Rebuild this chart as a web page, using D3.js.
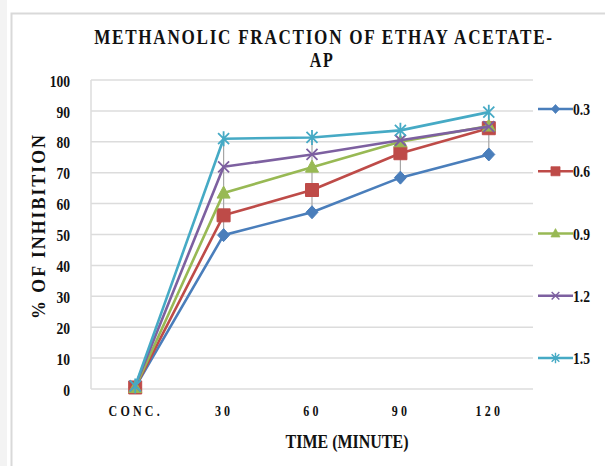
<!DOCTYPE html>
<html>
<head>
<meta charset="utf-8">
<script src="https://cdn.jsdelivr.net/npm/d3@7/dist/d3.min.js"></script>
<style>
  html, body { margin: 0; padding: 0; background: #fff; }
  svg { display: block; }
  svg text { font-family: "Liberation Serif", "Times New Roman", serif !important; font-weight: bold; fill: #111; }
</style>
</head>
<body>
<script>
// Time points and dose series (% inhibition)
const categories = ["CONC.", "30", "60", "90", "120"];
const seriesNames = ["0.3", "0.6", "0.9", "1.2", "1.5"];
const s03 = [0.5, 49.8, 57.2, 68.4, 75.9];
const s06 = [0.5, 56.2, 64.4, 76.3, 84.4];
const s09 = [0.5, 63.4, 71.8, 80.0, 85.1];
const s12 = [1, 71.9, 75.9, 80.5, 84.9];
const s15 = [1, 81.0, 81.4, 83.7, 89.6];
const yTicks = [0, 10, 20, 30, 40, 50, 60, 70, 80, 90, 100];

const seriesValues = [s03, s06, s09, s12, s15];
const colors = ["#4a7ebb", "#be4b48", "#98b954", "#7d60a0", "#46aac5"];
const shapes = ["diamond", "square", "triangle", "x", "star"];

const W = 605, H = 466;
const svg = d3.select("body").append("svg").attr("width", W).attr("height", H);

// outer frame
svg.append("rect").attr("x", 0).attr("y", 0).attr("width", 7).attr("height", H).attr("fill", "#f3f3f3");
svg.append("path").attr("d", `M11.5,${H} V13.5 H${W}`).attr("fill", "none")
  .attr("stroke", "#d9d9d9").attr("stroke-width", 2);

const plot = { left: 91, right: 533, top: 80, bottom: 389 };

const x = d3.scalePoint().domain(categories).range([plot.left, plot.right]).padding(0.5);
const y = d3.scaleLinear().domain([0, 100]).range([plot.bottom, plot.top]);

// horizontal gridlines
svg.append("g").selectAll("line").data(yTicks).join("line")
  .attr("x1", plot.left).attr("x2", plot.right)
  .attr("y1", d => y(d)).attr("y2", d => y(d))
  .attr("stroke", "#dcdcdc").attr("stroke-width", 1.5);

// left axis line
svg.append("line").attr("x1", plot.left).attr("x2", plot.left)
  .attr("y1", plot.top).attr("y2", plot.bottom)
  .attr("stroke", "#dcdcdc").attr("stroke-width", 1.5);

// y axis labels
const yAxis = d3.axisLeft(y).tickValues(yTicks).tickSize(0).tickPadding(21);
const gy = svg.append("g").attr("transform", `translate(${plot.left},0)`).call(yAxis);
gy.select(".domain").remove();
gy.selectAll("text").attr("class", "cond").attr("font-size", 17)
  .attr("fill", "#111").attr("dy", "0.36em");

// x axis labels
const xAxis = d3.axisBottom(x).tickSize(0).tickPadding(17);
const gx = svg.append("g").attr("transform", `translate(0,${plot.bottom})`).call(xAxis);
gx.select(".domain").remove();
gx.selectAll("text").attr("class", "cond").attr("font-size", 15)
  .attr("fill", "#111").attr("dy", "0.7em").style("letter-spacing", "4px");

// high-low lines
svg.append("g").selectAll("line").data(categories).join("line")
  .attr("x1", d => x(d)).attr("x2", d => x(d))
  .attr("y1", (d, i) => y(d3.min(seriesValues, s => s[i])))
  .attr("y2", (d, i) => y(d3.max(seriesValues, s => s[i])))
  .attr("stroke", "#a6a6a6").attr("stroke-width", 1.2);

function markerPath(shape, cx, cy) {
  switch (shape) {
    case "diamond": return `M${cx},${cy-6.5}L${cx+6},${cy}L${cx},${cy+6.5}L${cx-6},${cy}Z`;
    case "square": return `M${cx-6.5},${cy-6.5}h13v13h-13Z`;
    case "triangle": return `M${cx},${cy-7}L${cx+6.5},${cy+5}L${cx-6.5},${cy+5}Z`;
    case "x": return `M${cx-5.5},${cy-5.5}L${cx+5.5},${cy+5.5}M${cx-5.5},${cy+5.5}L${cx+5.5},${cy-5.5}`;
    case "star": return `M${cx-5.5},${cy-5.5}L${cx+5.5},${cy+5.5}M${cx-5.5},${cy+5.5}L${cx+5.5},${cy-5.5}M${cx},${cy-7.5}V${cy+7.5}`;
  }
}

const line = d3.line().x((d, i) => x(categories[i])).y(d => y(d));

seriesValues.forEach((vals, k) => {
  const g = svg.append("g");
  g.append("path").datum(vals).attr("d", line).attr("fill", "none")
    .attr("stroke", colors[k]).attr("stroke-width", 2.6).attr("stroke-linejoin", "round");
  g.selectAll("path.m").data(vals).join("path").attr("class", "m")
    .attr("d", (d, i) => markerPath(shapes[k], x(categories[i]), y(d)))
    .attr("fill", (shapes[k] === "x" || shapes[k] === "star") ? "none" : colors[k])
    .attr("stroke", colors[k]).attr("stroke-width", (shapes[k] === "x" || shapes[k] === "star") ? 1.8 : 1);
});

// legend
const legendY = d3.scalePoint().domain(seriesNames).range([109, 358]);
seriesNames.forEach((name, k) => {
  const ly = legendY(name);
  const g = svg.append("g");
  g.append("line").attr("x1", 538).attr("x2", 573).attr("y1", ly).attr("y2", ly)
    .attr("stroke", colors[k]).attr("stroke-width", 2.6);
  const sh = shapes[k];
  g.append("path").attr("d", markerPath(sh, 555.5, ly))
    .attr("transform", `translate(555.5,${ly}) scale(0.7) translate(-555.5,${-ly})`)
    .attr("fill", (sh === "x" || sh === "star") ? "none" : colors[k])
    .attr("stroke", colors[k]).attr("stroke-width", (sh === "x" || sh === "star") ? 2 : 1);
  g.append("text").attr("class", "cond").attr("x", 573).attr("y", ly).attr("dy", "0.36em")
    .attr("font-size", 17).text(name);
});

// squeeze a text horizontally about its anchor x
function squeeze(node, sx) {
  const ax = +node.getAttribute("x") || 0;
  const prev = node.getAttribute("transform") || "";
  node.setAttribute("transform", `${prev} translate(${ax},0) scale(${sx},1) translate(${-ax},0)`);
}
function fitWidth(node, target) {
  squeeze(node, target / node.getComputedTextLength());
}

// titles
const t1 = svg.append("text").attr("x", 324).attr("y", 44).attr("text-anchor", "middle")
  .attr("font-size", 20).style("letter-spacing", "2px")
  .text("METHANOLIC FRACTION OF ETHAY ACETATE-");
fitWidth(t1.node(), 460);
svg.append("text").attr("class", "cond").attr("x", 322).attr("y", 67).attr("text-anchor", "middle")
  .attr("font-size", 20).style("letter-spacing", "2px").text("AP");

const tx = svg.append("text").attr("x", 347).attr("y", 448).attr("text-anchor", "middle")
  .attr("font-size", 18).text("TIME  (MINUTE)");
fitWidth(tx.node(), 123);

const ty = svg.append("text").attr("transform", "translate(45,226) rotate(-90)").attr("text-anchor", "middle")
  .attr("font-size", 18).style("letter-spacing", "2px")
  .text("% OF INHIBITION");
fitWidth(ty.node(), 186);

// narrow the glyphs of the remaining labels
svg.selectAll("text.cond").each(function () { squeeze(this, 0.8); });
</script>
</body>
</html>
